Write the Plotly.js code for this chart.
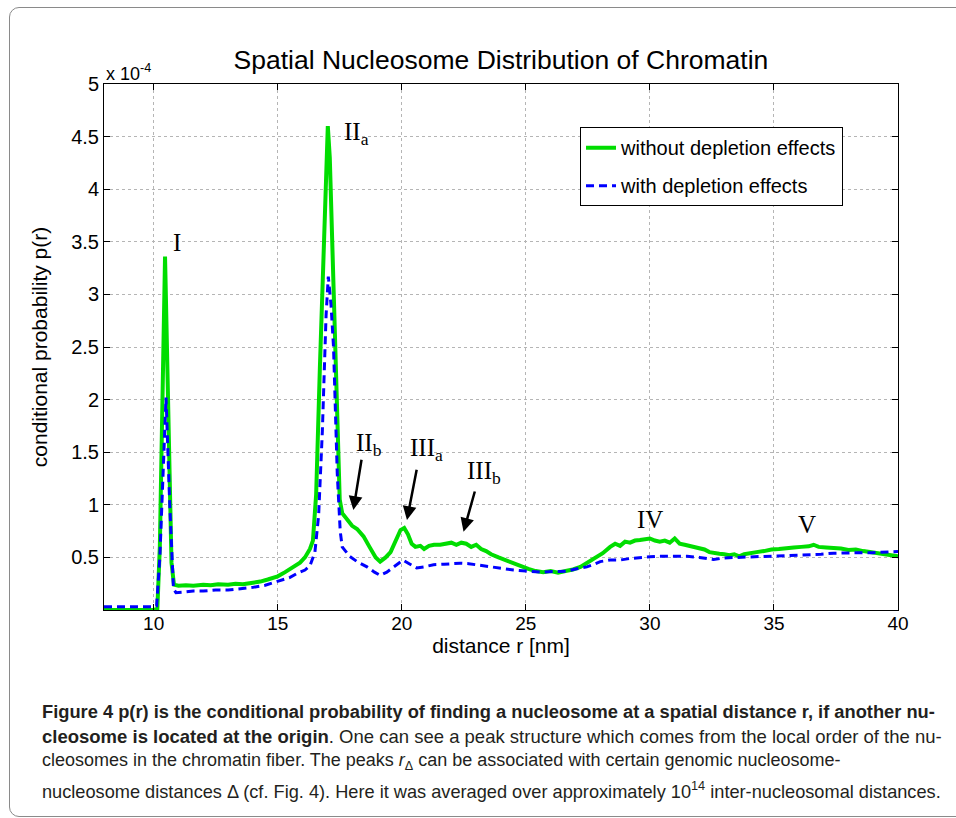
<!DOCTYPE html>
<html>
<head>
<meta charset="utf-8">
<script src="https://cdn.plot.ly/plotly-3.0.1.min.js"></script>
<style>
  html, body { margin: 0; padding: 0; width: 956px; height: 818px; overflow: hidden; background: #fff; }
  #plot { position: absolute; left: 0; top: 0; width: 956px; height: 818px; }
  #frame { position: absolute; left: 9px; top: 7px; width: 980px; height: 808px; border: 1px solid #8a8a8a; border-radius: 10px; pointer-events: none; z-index: 5; }
</style>
</head>
<body>
<div id="plot"></div>
<div id="frame"></div>
<script>
// distance r [nm]
const rWithout = [8.0, 9.0, 10.0, 10.15, 10.25, 10.46, 10.6, 10.72, 10.82, 11.0, 11.3, 11.6, 12.0, 12.3, 12.6, 13.0, 13.3, 13.6, 14.0, 14.3, 14.6, 15.0, 15.3, 15.6, 15.9, 16.1, 16.3, 16.42, 16.55, 16.7, 16.85, 16.95, 17.02, 17.1, 17.2, 17.35, 17.5, 17.6, 17.8, 18.0, 18.2, 18.46, 18.7, 18.95, 19.13, 19.35, 19.55, 19.75, 19.95, 20.1, 20.25, 20.4, 20.55, 20.75, 20.9, 21.1, 21.3, 21.55, 21.8, 22.0, 22.2, 22.4, 22.6, 22.8, 23.0, 23.2, 23.4, 23.6, 23.9, 24.2, 24.5, 24.8, 25.1, 25.4, 25.7, 26.0, 26.3, 26.6, 26.9, 27.2, 27.5, 27.8, 28.1, 28.4, 28.6, 28.8, 29.0, 29.2, 29.4, 29.6, 29.8, 30.0, 30.2, 30.4, 30.6, 30.8, 31.0, 31.2, 31.4, 31.6, 31.8, 32.0, 32.2, 32.4, 32.6, 32.8, 33.0, 33.2, 33.4, 33.6, 33.8, 34.0, 34.3, 34.6, 34.9, 35.2, 35.5, 35.8, 36.1, 36.4, 36.6, 36.8, 37.1, 37.4, 37.7, 38.0, 38.3, 38.6, 38.9, 39.2, 39.5, 39.8, 40.0];
// p(r) without depletion effects, units of 1e-4
const pWithout = [0.0, 0.0, 0.0, 0.01, 0.6, 3.36, 1.8, 0.45, 0.24, 0.23, 0.235, 0.23, 0.24, 0.235, 0.245, 0.24, 0.25, 0.245, 0.26, 0.27, 0.29, 0.32, 0.36, 0.41, 0.45, 0.50, 0.58, 0.66, 1.1, 2.3, 3.5, 4.3, 4.6, 4.3, 3.5, 2.2, 1.05, 0.92, 0.86, 0.80, 0.77, 0.70, 0.60, 0.50, 0.46, 0.50, 0.55, 0.66, 0.76, 0.78, 0.72, 0.63, 0.60, 0.61, 0.58, 0.61, 0.62, 0.62, 0.63, 0.64, 0.62, 0.64, 0.63, 0.60, 0.62, 0.58, 0.56, 0.53, 0.50, 0.47, 0.44, 0.41, 0.39, 0.37, 0.36, 0.37, 0.355, 0.37, 0.385, 0.41, 0.45, 0.50, 0.54, 0.60, 0.63, 0.61, 0.65, 0.64, 0.66, 0.665, 0.67, 0.68, 0.66, 0.65, 0.66, 0.64, 0.68, 0.63, 0.62, 0.61, 0.60, 0.59, 0.575, 0.55, 0.54, 0.535, 0.53, 0.52, 0.53, 0.51, 0.53, 0.54, 0.55, 0.56, 0.575, 0.58, 0.59, 0.595, 0.60, 0.605, 0.62, 0.60, 0.595, 0.59, 0.585, 0.57, 0.575, 0.56, 0.55, 0.545, 0.53, 0.52, 0.51];

const rWith = [8.0, 9.0, 10.0, 10.12, 10.25, 10.5, 10.65, 10.8, 10.9, 11.2, 11.6, 12.0, 12.5, 13.0, 13.5, 14.0, 14.5, 15.0, 15.5, 15.8, 16.1, 16.3, 16.5, 16.65, 16.8, 16.95, 17.04, 17.15, 17.25, 17.4, 17.52, 17.6, 17.78, 17.9, 18.2, 18.6, 18.9, 19.13, 19.4, 19.67, 19.9, 20.05, 20.3, 20.6, 20.9, 21.28, 21.7, 22.0, 22.35, 22.7, 23.0, 23.43, 23.9, 24.5, 25.0, 25.58, 26.1, 26.66, 27.0, 27.46, 27.7, 28.0, 28.4, 28.8, 29.2, 29.6, 30.0, 30.4, 31.0, 31.5, 32.0, 32.57, 33.0, 33.6, 34.1, 34.7, 35.3, 35.8, 36.4, 36.9, 37.4, 37.9, 38.5, 39.0, 39.5, 40.0];
// p(r) with depletion effects, units of 1e-4
const pWith = [0.03, 0.03, 0.03, 0.04, 0.5, 2.02, 1.0, 0.2, 0.165, 0.17, 0.18, 0.18, 0.19, 0.19, 0.20, 0.215, 0.235, 0.27, 0.31, 0.35, 0.38, 0.42, 0.55, 0.9, 1.7, 2.8, 3.17, 2.9, 2.5, 1.3, 0.75, 0.6, 0.54, 0.51, 0.46, 0.41, 0.36, 0.33, 0.36, 0.41, 0.45, 0.475, 0.44, 0.40, 0.41, 0.43, 0.435, 0.44, 0.445, 0.44, 0.43, 0.41, 0.395, 0.38, 0.37, 0.36, 0.365, 0.37, 0.39, 0.41, 0.43, 0.46, 0.475, 0.475, 0.49, 0.50, 0.505, 0.51, 0.51, 0.51, 0.50, 0.48, 0.495, 0.50, 0.505, 0.51, 0.515, 0.52, 0.525, 0.53, 0.54, 0.545, 0.545, 0.545, 0.55, 0.555];

const xTicks = [10, 15, 20, 25, 30, 35, 40];
const yTicks = [0.5, 1, 1.5, 2, 2.5, 3, 3.5, 4, 4.5, 5];
const seriesNames = ['without depletion effects', 'with depletion effects'];

// peak labels: [text, r, p, anchor]
const peakLabels = [
  ['I', 10.94, 3.49, 'center'],
  ['II<sub>a</sub>', 17.6, 4.53, 'left'],
  ['II<sub>b</sub>', 18.06, 1.57, 'left'],
  ['III<sub>a</sub>', 20.24, 1.53, 'left'],
  ['III<sub>b</sub>', 22.53, 1.31, 'left'],
  ['IV', 30.0, 0.865, 'center'],
  ['V', 36.32, 0.81, 'center']
];
// arrows: head r, head p, tail offset px
const arrows = [
  [18.05, 0.951, 8.4, -51.7],
  [20.21, 0.856, 10, -51.7],
  [22.49, 0.744, 11.7, -41.7]
];

const captionLines = [
  '<b>Figure 4 p(r) is the conditional probability of finding a nucleosome at a spatial distance r, if another nu-</b>',
  '<b>cleosome is located at the origin</b>. One can see a peak structure which comes from the local order of the nu-',
  'cleosomes in the chromatin fiber. The peaks <i>r</i><sub>Δ</sub> can be associated with certain genomic nucleosome-',
  'nucleosome distances Δ (cf. Fig. 4). Here it was averaged over approximately 10<sup>14</sup> inter-nucleosomal distances.'
];
const captionY = [-0.1933, -0.2409, -0.2884, -0.3422];
const captionSize = [18.3, 18.5, 18, 18.2];

const sans = 'Liberation Sans, Arial, Helvetica, sans-serif';
const serif = 'Liberation Serif, Times New Roman, serif';

const traces = [
  { x: rWithout, y: pWithout, type: 'scatter', mode: 'lines', name: seriesNames[0], legendgroup: 'a',
    line: { color: '#00dd00', width: 4 } },
  { x: rWith, y: pWith, type: 'scatter', mode: 'lines', name: seriesNames[1], legendgroup: 'b',
    line: { color: '#0000ff', width: 3, dash: '8px,5px' } }
];

const annotations = [];
peakLabels.forEach(p => annotations.push({
  x: p[1], y: p[2], xref: 'x', yref: 'y', text: p[0], showarrow: false,
  xanchor: p[3], yanchor: 'middle', font: { family: serif, size: 25, color: '#000' }
}));
arrows.forEach(a => annotations.push({
  x: a[0], y: a[1], xref: 'x', yref: 'y', text: '', showarrow: true,
  ax: a[2], ay: a[3], arrowhead: 2, arrowsize: 1.1, arrowwidth: 2.5, arrowcolor: '#000', standoff: 0
}));
annotations.push({
  x: 0, y: 1.021, xref: 'paper', yref: 'paper', text: 'x 10<sup>-4</sup>', showarrow: false,
  xanchor: 'left', yanchor: 'middle', font: { family: sans, size: 18, color: '#000' }
});
captionLines.forEach((t, i) => annotations.push({
  x: -0.0806, y: captionY[i], xref: 'paper', yref: 'paper', text: t, showarrow: false,
  xanchor: 'left', yanchor: 'middle', align: 'left', font: { family: sans, size: captionSize[i], color: '#231f20' }
}));

const layout = {
  width: 956, height: 818,
  margin: { l: 104, r: 58, t: 84, b: 208 },
  paper_bgcolor: '#fff', plot_bgcolor: '#fff',
  title: { text: 'Spatial Nucleosome Distribution of Chromatin', x: 0.524, xanchor: 'center',
           y: 0.927, yanchor: 'middle', yref: 'container', font: { family: sans, size: 26.5, color: '#000' } },
  xaxis: {
    range: [8, 40], tickvals: xTicks, ticktext: xTicks.map(String),
    ticks: 'inside', ticklen: 6, tickcolor: '#000', showline: true, linecolor: '#000', linewidth: 1, mirror: 'ticks',
    showgrid: true, gridcolor: '#b5b5b5', griddash: 'dot', gridwidth: 1, zeroline: false,
    tickfont: { family: sans, size: 19, color: '#000' }, ticklabelstandoff: -4,
    title: { text: 'distance r [nm]', font: { family: sans, size: 21, color: '#000' }, standoff: 2 }
  },
  yaxis: {
    range: [0, 5], tickvals: yTicks, ticktext: yTicks.map(String),
    ticks: 'inside', ticklen: 6, tickcolor: '#000', showline: true, linecolor: '#000', linewidth: 1, mirror: 'ticks',
    showgrid: true, gridcolor: '#b5b5b5', griddash: 'dot', gridwidth: 1, zeroline: false,
    tickfont: { family: sans, size: 20, color: '#000' },
    title: { text: 'conditional probability p(r)', font: { family: sans, size: 21, color: '#000' }, standoff: 17 }
  },
  showlegend: true,
  legend: {
    x: 0.5995, y: 0.918, xanchor: 'left', yanchor: 'top',
    bgcolor: '#fff', bordercolor: '#000', borderwidth: 1, tracegroupgap: 9,
    font: { family: sans, size: 20, color: '#000' }, itemwidth: 30
  },
  annotations: annotations
};

Plotly.newPlot('plot', traces, layout, { displayModeBar: false, staticPlot: true });
</script>
</body>
</html>
